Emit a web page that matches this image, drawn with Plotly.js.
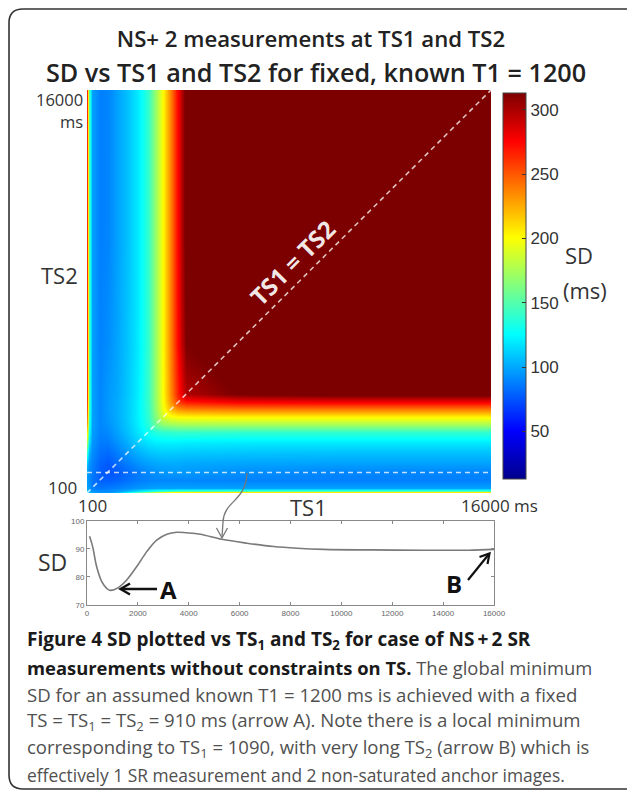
<!DOCTYPE html>
<html>
<head>
<meta charset="utf-8">
<script src="https://cdn.plot.ly/plotly-3.0.1.min.js"></script>
<style>
  html, body { margin: 0; padding: 0; background: #ffffff; }
  #chart { width: 627px; height: 792px; }
</style>
</head>
<body>
<div id="chart"></div>
<script>
// Grid nodes (ms) used for both TS1 (columns) and TS2 (rows)
const tsGrid = [100, 180, 300, 600, 910, 1300, 1700, 2100, 2500, 2800, 3100, 3400, 3700, 4000, 6000, 10000, 16000];

// SD (ms) on the grid: one row per TS2 node, one column per TS1 node
const sdGrid = [
  [120, 110, 100, 97, 97,   110, 140, 175, 205, 225,  240, 250, 255, 258, 262, 262,  262],
  [110, 100,  95, 92, 92,    95, 105, 118, 130, 138,  143, 146, 148, 150, 150, 150,  150],
  [100,  95,  88, 85, 87,    89,  92,  95,  97,  98,   98,  98,  98,  98,  98,  98,   98],
  [ 97,  92,  85, 79, 78,    80,  84,  87,  89,  90,   90,  90,  90,  90,  89,  88,   88],
  [ 97,  92,  87, 78, 75,    77,  82,  87,  91,  93.5, 95,  95.8, 95.8, 95.5, 92.5, 89.8, 89.5],
  [110,  95,  89, 80, 77,    82,  88,  94,  98, 100,  101, 101, 101, 100,  99,  98,   98],
  [140, 105,  92, 84, 82,    88,  96, 103, 108, 110,  111, 111, 111, 110, 109, 108,  108],
  [175, 118,  95, 87, 87,    94, 103, 112, 118, 121,  122, 122, 122, 121, 120, 120,  120],
  [205, 130,  97, 89, 91,    98, 108, 118, 130, 136,  139, 140, 141, 141, 140, 140,  140],
  [225, 138,  98, 90, 93.5, 100, 110, 121, 136, 157,  166, 170, 171, 172, 172, 172,  172],
  [240, 143,  98, 90, 95,   101, 111, 122, 139, 166,  188, 197, 200, 201, 202, 202,  202],
  [250, 146,  98, 90, 95.8, 101, 111, 122, 140, 170,  197, 222, 233, 237, 240, 240,  240],
  [255, 148,  98, 90, 95.8, 101, 111, 122, 141, 171,  200, 233, 258, 268, 276, 277,  277],
  [258, 150,  98, 90, 95.5, 100, 110, 121, 141, 172,  201, 237, 268, 298, 314, 320,  320],
  [262, 150,  98, 89, 92.5,  99, 109, 120, 140, 172,  202, 240, 276, 314, 330, 330,  330],
  [262, 150,  98, 88, 89.8,  98, 108, 120, 140, 172,  202, 240, 277, 320, 330, 330,  330],
  [262, 150,  98, 88, 89.5,  98, 108, 120, 140, 172,  202, 240, 277, 320, 330, 330,  330]
];

// SD along TS1 for fixed TS2 = 910 ms
const lineTS1 = [100, 180, 250, 380, 580, 775, 910, 1230, 1560, 1950, 2350, 2740, 3140, 3530, 3920, 4450, 5300, 6290, 7340, 8260, 9300, 11140, 13240, 15000, 16000];
const lineSD  = [94.5, 92.2, 89.6, 83.6, 78.3, 75.9, 75.2, 76.2, 78.9, 83.6, 89.0, 93.1, 95.2, 95.9, 95.7, 95.2, 93.4, 92.0, 90.8, 90.2, 89.8, 89.6, 89.5, 89.5, 89.8];

// Reference lines on the map
const diagTS = [100, 16000];
const fixedTS1 = [100, 16000];
const fixedTS2 = [910, 910];

// Tick values
const cbTicks = [50, 100, 150, 200, 250, 300];
const lineXTicks = [0, 2000, 4000, 6000, 8000, 10000, 12000, 14000, 16000];
const lineYTicks = [70, 80, 90, 100];

const W = 627, H = 792;
const px = x => x / W;
const py = y => 1 - y / H;

const jet = [
  [0.000, 'rgb(0,0,140)'],
  [0.125, 'rgb(0,0,255)'],
  [0.375, 'rgb(0,255,255)'],
  [0.625, 'rgb(255,255,0)'],
  [0.875, 'rgb(255,0,0)'],
  [1.000, 'rgb(125,0,0)']
];

const FONT = 'Open Sans, Noto Sans, sans-serif';
const MAT = 'Liberation Sans, Arial, sans-serif';

const traces = [
  {
    type: 'heatmap',
    x: tsGrid, y: tsGrid, z: sdGrid,
    zsmooth: 'best',
    colorscale: jet,
    zmin: 13, zmax: 313,
    hoverinfo: 'skip',
    colorbar: {
      x: px(503), xanchor: 'left', xpad: 0,
      y: py(286), yanchor: 'middle', ypad: 0,
      thickness: 23, thicknessmode: 'pixels',
      len: (479 - 93) / H, lenmode: 'fraction',
      outlinewidth: 1, outlinecolor: '#444',
      tickvals: cbTicks, ticks: 'inside', ticklen: 4, tickcolor: '#333',
      tickfont: { family: MAT, size: 17, color: '#333' }
    }
  },
  {
    type: 'scatter', mode: 'lines', x: diagTS, y: diagTS,
    line: { color: 'rgba(255,255,255,0.75)', width: 1.6, dash: '5px,4px' },
    hoverinfo: 'skip', showlegend: false
  },
  {
    type: 'scatter', mode: 'lines', x: fixedTS1, y: fixedTS2,
    line: { color: 'rgba(255,255,255,0.75)', width: 1.6, dash: '5px,4px' },
    hoverinfo: 'skip', showlegend: false
  },
  {
    type: 'scatter', mode: 'lines', x: lineTS1, y: lineSD,
    xaxis: 'x2', yaxis: 'y2',
    line: { color: '#7a7a7a', width: 1.6, shape: 'spline' },
    hoverinfo: 'skip', showlegend: false
  }
];

function txt(text, x, y, size, opts) {
  return Object.assign({
    text: text, x: px(x), y: py(y), xref: 'paper', yref: 'paper',
    showarrow: false, xanchor: 'center', yanchor: 'middle',
    font: { family: FONT, size: size, color: '#333' }
  }, opts || {});
}

const capGray = '#505050';
const capDark = '#1a1a1a';
function capLine(text, y, size, color) {
  return txt(text, 25, y, size, { xanchor: 'left', font: { family: FONT, size: size, color: color } });
}

const annotations = [
  txt('SD vs TS1 and TS2 for fixed, known T1 = 1200', 316, 71.5, 25.2, { font: { family: FONT, size: 25.2, color: '#222', weight: 600 } }),
  // map labels
  txt('16000', 85, 99, 16.5, { xanchor: 'right' }),
  txt('ms', 85, 121, 16.5, { xanchor: 'right' }),
  txt('TS2', 59, 275, 22),
  txt('100', 79, 487, 17, { xanchor: 'right' }),
  txt('100', 92, 505, 17),
  txt('TS1', 308, 507, 22),
  txt('16000 ms', 499, 505, 17),
  txt('SD', 579, 255, 22),
  txt('(ms)', 585, 290, 22),
  txt('TS1 = TS2', 292, 262, 24, { textangle: -45, font: { family: FONT, size: 24, color: 'rgba(255,255,255,0.92)', weight: 'bold' } }),
  // line chart labels
  txt('SD', 52, 562, 23),
  txt('A', 168, 589, 24, { font: { family: FONT, size: 24, color: '#111', weight: 'bold' } }),
  txt('B', 454, 583, 24, { font: { family: FONT, size: 24, color: '#111', weight: 'bold' } }),
  // caption
  capLine('<b>Figure 4 SD plotted vs TS<sub>1</sub> and TS<sub>2</sub> for case of NS\u2009+\u20092 SR</b>', 640, 19, capDark),
  capLine('<b>measurements without constraints on TS.</b> <span style="color:' + capGray + '">The global minimum</span>', 667, 18.4, capDark),
  capLine('SD for an assumed known T1 = 1200 ms is achieved with a fixed', 694, 18.6, capGray),
  capLine('TS = TS<sub>1</sub> = TS<sub>2</sub> = 910 ms (arrow A). Note there is a local minimum', 721, 18.6, capGray),
  capLine('corresponding to TS<sub>1</sub> = 1090, with very long TS<sub>2</sub> (arrow B) which is', 748, 18.5, capGray),
  capLine('effectively 1 SR measurement and 2 non-saturated anchor images.', 775, 17.4, capGray)
];

function pathShape(d, color, width) {
  return { type: 'path', xref: 'paper', yref: 'paper', path: d, line: { color: color, width: width } };
}

const r = 14;
const shapes = [
  // panel frame
  pathShape(`M ${px(627)} ${py(9)} L ${px(9 + r)} ${py(9)} Q ${px(9)} ${py(9)} ${px(9)} ${py(9 + r)} ` +
            `L ${px(9)} ${py(789 - r)} Q ${px(9)} ${py(789)} ${px(9 + r)} ${py(789)} L ${px(627)} ${py(789)}`, '#333', 1.6),
  // curved pointer from the TS2 = 910 line to the profile below
  pathShape(`M ${px(247)} ${py(473)} C ${px(246)} ${py(502)} ${px(224)} ${py(500)} ${px(223)} ${py(522)} L ${px(222)} ${py(537)}`, '#777', 1.3),
  pathShape(`M ${px(216.5)} ${py(528)} L ${px(222)} ${py(538)} L ${px(227.5)} ${py(528)}`, '#777', 1.3),
  // arrow A
  pathShape(`M ${px(157)} ${py(589)} L ${px(121)} ${py(589)}`, '#111', 2.4),
  pathShape(`M ${px(130)} ${py(583.5)} L ${px(120.5)} ${py(589)} L ${px(130)} ${py(594.5)}`, '#111', 2.4),
  // arrow B
  pathShape(`M ${px(468)} ${py(580)} L ${px(489)} ${py(554)}`, '#111', 2.2),
  pathShape(`M ${px(479.5)} ${py(557)} L ${px(489.5)} ${py(553.5)} L ${px(487.5)} ${py(564)}`, '#111', 2.2)
];

const layout = {
  width: W, height: H,
  margin: { l: 0, r: 0, t: 0, b: 0, pad: 0 },
  paper_bgcolor: '#ffffff', plot_bgcolor: '#ffffff',
  showlegend: false,
  title: {
    text: 'NS+ 2 measurements at TS1 and TS2',
    x: px(311), xanchor: 'center', xref: 'paper',
    y: py(39), yanchor: 'middle', yref: 'paper',
    font: { family: FONT, size: 22.2, color: '#222', weight: 600 }
  },
  xaxis: {
    domain: [px(87), px(491)], range: [100, 16000], anchor: 'y',
    showticklabels: false, ticks: '', showgrid: false, zeroline: false, showline: false
  },
  yaxis: {
    domain: [py(493), py(90)], range: [100, 16000], anchor: 'x',
    showticklabels: false, ticks: '', showgrid: false, zeroline: false, showline: false
  },
  xaxis2: {
    domain: [px(87), px(494)], range: [0, 16000], anchor: 'y2',
    tickvals: lineXTicks, tickformat: 'd', ticks: 'inside', ticklen: 3, tickcolor: '#888',
    showline: true, linecolor: '#888', linewidth: 1, mirror: 'ticks',
    showgrid: false, zeroline: false,
    tickfont: { family: MAT, size: 8, color: '#666' }
  },
  yaxis2: {
    domain: [py(605), py(520.7)], range: [70, 100], anchor: 'x2',
    tickvals: lineYTicks, ticks: 'inside', ticklen: 3, tickcolor: '#888',
    showline: true, linecolor: '#888', linewidth: 1, mirror: 'ticks',
    showgrid: false, zeroline: false,
    tickfont: { family: MAT, size: 8, color: '#666' }
  },
  annotations: annotations,
  shapes: shapes
};

Plotly.newPlot('chart', traces, layout, { staticPlot: true, displayModeBar: false });
</script>
</body>
</html>
